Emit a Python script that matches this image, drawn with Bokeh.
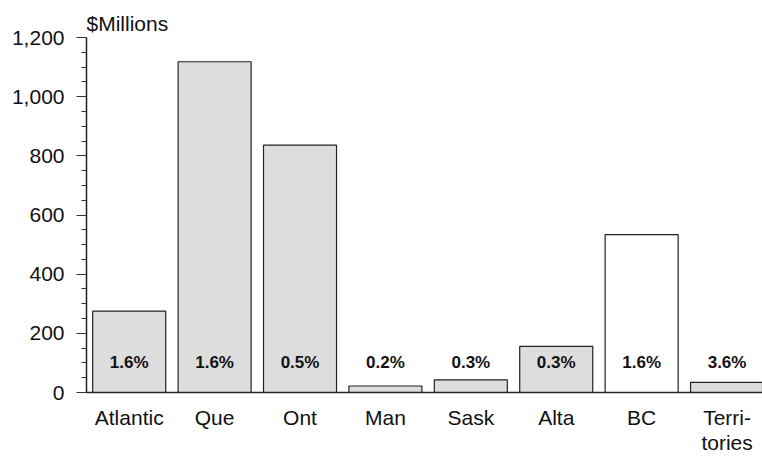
from bokeh.plotting import figure
from bokeh.models import Range1d, FixedTicker, SingleIntervalTicker, NumeralTickFormatter, ColumnDataSource
from bokeh.core.properties import value
from bokeh.embed import file_html
from bokeh.resources import INLINE

regions = ["Atlantic", "Que", "Ont", "Man", "Sask", "Alta", "BC", "Territories"]
region_labels = ["Atlantic", "Que", "Ont", "Man", "Sask", "Alta", "BC", "Terri-\ntories"]
millions = [275, 1118, 836, 22, 43, 156, 534, 34]
shares = ["1.6%", "1.6%", "0.5%", "0.2%", "0.3%", "0.3%", "1.6%", "3.6%"]
fills = ["#dddddd", "#dddddd", "#dddddd", "#dddddd", "#dddddd", "#dddddd", "#ffffff", "#dddddd"]
y_ticks_interval = 200

FONT = "Liberation Sans"
pos = [i + 0.5 for i in range(len(regions))]
label_y = [100] * len(regions)

src = ColumnDataSource(dict(x=pos, top=millions, fill=fills, share=shares, ly=label_y))

p = figure(width=762, height=456, output_backend="svg", toolbar_location=None,
           x_range=Range1d(0, 7.915), y_range=Range1d(0, 1200),
           min_border_left=86, min_border_right=0, min_border_top=37, min_border_bottom=62)
p.outline_line_color = None
p.grid.visible = False
p.background_fill_color = "white"

p.vbar(x="x", top="top", bottom=0, width=0.855, fill_color="fill", line_color="#222222",
       line_width=1.2, source=src)
p.text(x="x", y="ly", text="share", source=src, text_font=value(FONT), text_font_style="bold",
       text_font_size="17px", text_align="center", text_baseline="middle", text_color="#111111")

# title
p.title.text = "$Millions"
p.title.align = "left"
p.title.text_font = FONT
p.title.text_font_size = "21px"
p.title.text_font_style = "normal"
p.title.text_color = "#111111"
p.title.standoff = 6
p.title.offset = 0

# y axis
ya = p.yaxis[0]
ya.ticker = SingleIntervalTicker(interval=y_ticks_interval, num_minor_ticks=4)
ya.formatter = NumeralTickFormatter(format="0,0")
ya.major_tick_out = 10
ya.major_tick_in = 0
ya.minor_tick_out = 5
ya.minor_tick_in = 0
ya.major_label_standoff = 12
ya.major_label_text_font = FONT
ya.major_label_text_font_size = "21px"
ya.major_label_text_color = "#111111"
ya.axis_line_color = "#222222"
ya.axis_line_width = 1.5
ya.major_tick_line_color = "#333333"
ya.minor_tick_line_color = "#333333"

# x axis
xa = p.xaxis[0]
xa.ticker = FixedTicker(ticks=pos)
xa.major_label_overrides = {x: lab for x, lab in zip(pos, region_labels)}
xa.major_tick_out = 0
xa.major_tick_in = 0
xa.minor_tick_out = 0
xa.minor_tick_in = 0
xa.major_label_standoff = 13
xa.major_label_text_font = FONT
xa.major_label_text_font_size = "21px"
xa.major_label_text_color = "#111111"
xa.major_label_text_line_height = 1.1
xa.axis_line_color = "#222222"
xa.axis_line_width = 1.5

open("out.html", "w").write(file_html(p, INLINE))
